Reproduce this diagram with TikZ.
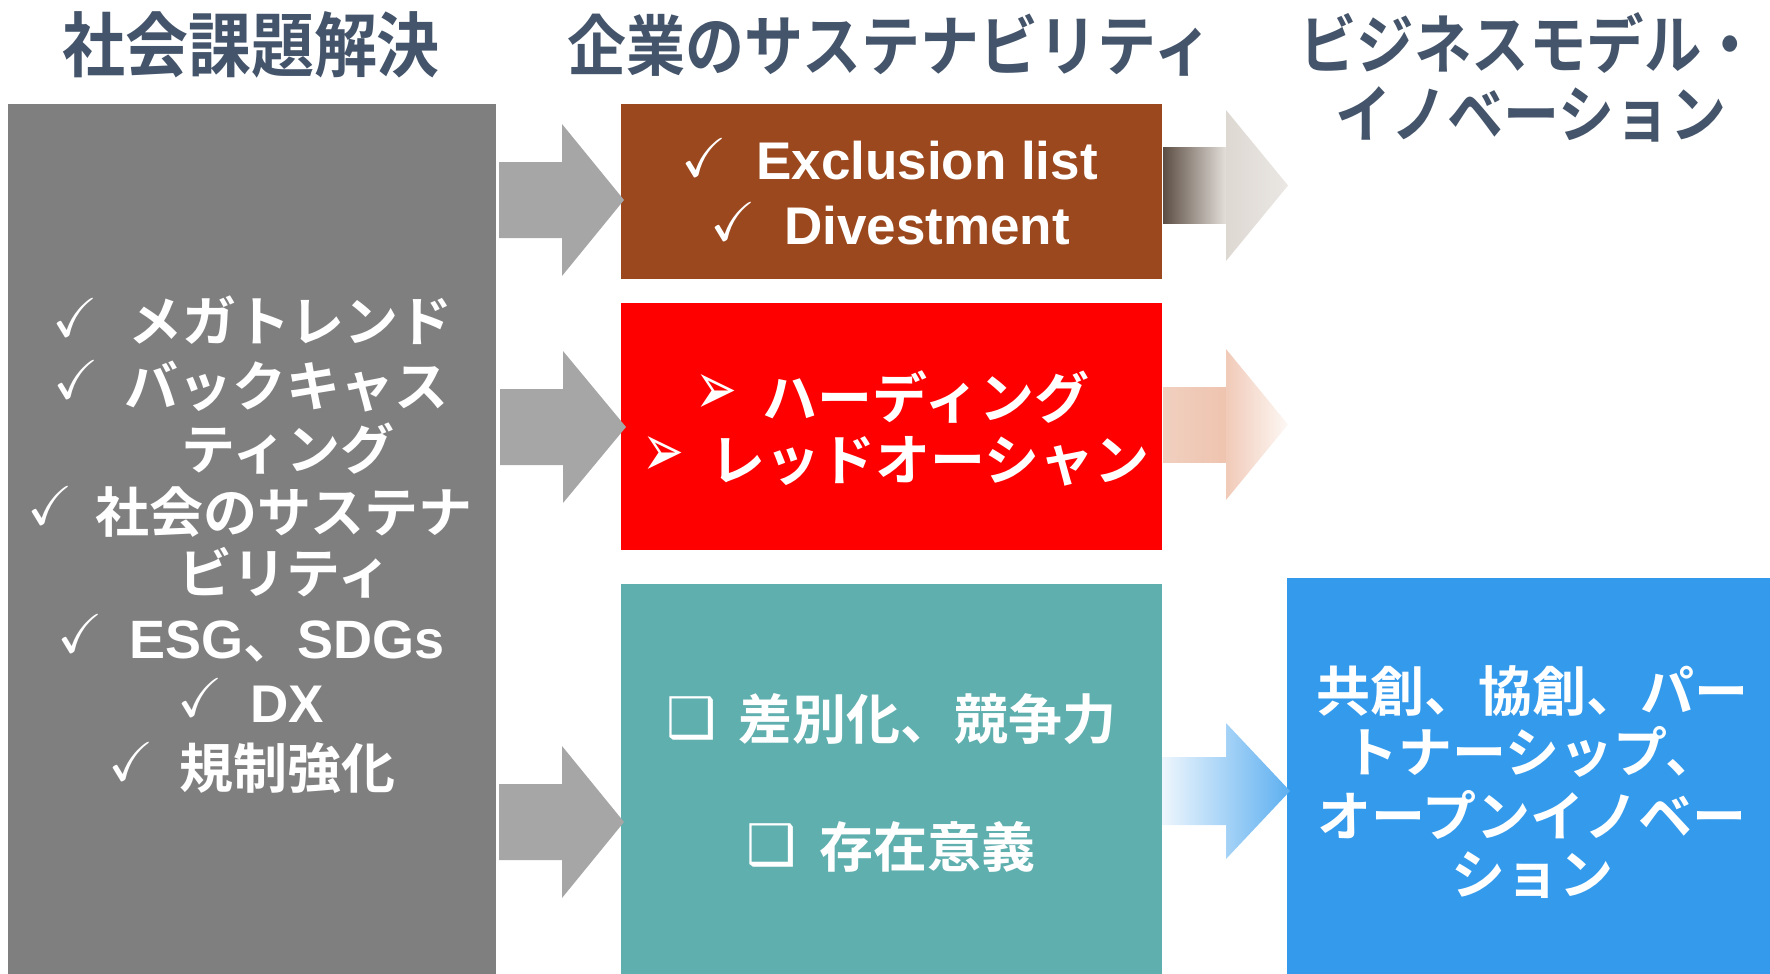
\documentclass[tikz,border=0pt]{standalone}
\usepackage{fontspec}
\usepackage{amssymb}
\setmainfont{Liberation Sans}
\newfontfamily\jp{Noto Sans CJK JP}[BoldFont={Noto Sans CJK JP Bold}]
\newfontfamily\dv{DejaVu Sans}
\newcommand\myfs[1]{\fontsize{#1}{#1}\selectfont}
\newcommand\ck{{\myfs{24.88}\scalebox{2.2}{$\checkmark$}}}
\newcommand\tall[1]{\scalebox{1}[1.12]{#1}}
\definecolor{titlec}{HTML}{44546A}
\definecolor{boxgray}{HTML}{7F7F7F}
\definecolor{boxbrown}{HTML}{9B481E}
\definecolor{boxred}{HTML}{FF0000}
\definecolor{boxteal}{HTML}{60AFAF}
\definecolor{boxblue}{HTML}{339AEC}
\definecolor{arrgray}{HTML}{A6A6A6}
\tikzset{
  every node/.style={inner sep=0pt, outer sep=0pt},
  panel/.style={draw=none},
  title/.style={text=titlec, font=\jp\bfseries\myfs{#1}},
  itm/.style={text=white, font=\jp\bfseries\myfs{#1}},
  lat/.style={text=white, font=\rmfamily\bfseries\myfs{#1}},
  ckn/.style={text=white},
  dvn/.style={text=white, font=\dv\myfs{#1}},
  garr/.style={fill=arrgray},
}
\begin{document}
\begin{tikzpicture}[x=1pt,y=-1pt]
\useasboundingbox (0,0) rectangle (1770,974);

% titles
\node[title=63] (t1) at (251,45) {\tall{社会課題解決}};
\node[title=59] (t2) at (890,45) {\tall{企業のサステナビリティ}};
\node[title=57.5] (t3) at (1529,43) {\tall{ビジネスモデル・}};
\node[title=56] (t4) at (1531,114) {\tall{イノベーション}};

% panels
\node[panel, fill=boxgray, minimum width=488pt, minimum height=870pt] (soc) at (252,539) {};
\node[panel, fill=boxbrown, minimum width=541pt, minimum height=175pt] (exc) at (891.5,191.5) {};
\node[panel, fill=boxred, minimum width=541pt, minimum height=247pt] (red) at (891.5,426.5) {};
\node[panel, fill=boxteal, minimum width=541pt, minimum height=390pt] (dif) at (891.5,779) {};
\node[panel, fill=boxblue, minimum width=483pt, minimum height=396pt] (inn) at (1528.5,776) {};

% gray arrows
\fill[garr] (499,162) -- (562,162) -- (562,124) -- (624,200) -- (562,276) -- (562,238) -- (499,238) -- cycle;
\fill[garr] (500,389) -- (563,389) -- (563,351) -- (626,427) -- (563,503) -- (563,465) -- (500,465) -- cycle;
\fill[garr] (499,784) -- (562,784) -- (562,746) -- (624,822) -- (562,898) -- (562,860) -- (499,860) -- cycle;

% right arrows
\shade[left color={rgb,255:red,92;green,78;blue,68}, right color={rgb,255:red,228;green,223;blue,218}] (1163,147) rectangle (1226,223);
\shade[left color={rgb,255:red,222;green,216;blue,210}, right color={rgb,255:red,234;green,231;blue,228}] (1226,110) -- (1288,185.5) -- (1226,261) -- cycle;
\shade[left color={rgb,255:red,240;green,207;blue,191}, middle color={rgb,255:red,233;green,180;blue,156}, right color={rgb,255:red,239;green,196;blue,175}] (1163,387) rectangle (1226,462);
\shade[left color={rgb,255:red,241;green,202;blue,184}, right color={rgb,255:red,253;green,248;blue,245}] (1226,349) -- (1288,424.5) -- (1226,500) -- cycle;
\shade[left color={rgb,255:red,238;green,246;blue,253}, right color={rgb,255:red,93;green,175;blue,240}] (1162,757) -- (1226,757) -- (1226,723) -- (1290,791) -- (1226,859) -- (1226,825) -- (1162,825) -- cycle;

% gray panel text
\node[ckn] (k1) at (75,318) {\ck};
\node[itm=54] (g1) at (290,320) {メガトレンド};
\node[ckn] (k2) at (76,380) {\ck};
\node[itm=54] (g2) at (286,387) {バックキャス};
\node[itm=54] (g3) at (288,449) {ティング};
\node[ckn] (k4) at (50,506) {\ck};
\node[itm=54] (g4) at (284,512) {社会のサステナ};
\node[itm=54] (g5) at (285,573) {ビリティ};
\node[ckn] (k6) at (80,634) {\ck};
\node[itm=54] (g6) at (287,642) {{\rmfamily\myfs{54}ESG}、{\rmfamily\myfs{54}SDGs}};
\node[ckn] (k7) at (200,698) {\ck};
\node[lat=53] (g7) at (287,704) {DX};
\node[ckn] (k8) at (131,762) {\ck};
\node[itm=54] (g8) at (287,768) {規制強化};

% brown panel text
\node[ckn] (k9) at (704,158) {\ck};
\node[lat=53] (e1) at (927,161) {Exclusion list};
\node[ckn] (k10) at (733,222) {\ck};
\node[lat=53] (e2) at (927,226) {Divestment};

% red panel text
\node[dvn=50] (a1) at (716,395) {\scalebox{1}[1.5]{➢}};
\node[itm=55] (r1) at (926,397) {ハーディング};
\node[dvn=50] (a2) at (663,457) {\scalebox{1}[1.5]{➢}};
\node[itm=55] (r2) at (930,461) {レッドオーシャン};

% teal panel text
\node[dvn=56] (b1) at (692,718) {❑};
\node[itm=54] (d1) at (927,719) {差別化、競争力};
\node[dvn=56] (b2) at (772,845) {❑};
\node[itm=54] (d2) at (927,847) {存在意義};

% blue panel text
\node[itm=54] (n1) at (1532,691) {共創、協創、パー};
\node[itm=54] (n2) at (1532,752) {トナーシップ、};
\node[itm=54] (n3) at (1532,815) {オープンイノベー};
\node[itm=54] (n4) at (1532,875) {ション};
\end{tikzpicture}
\end{document}
